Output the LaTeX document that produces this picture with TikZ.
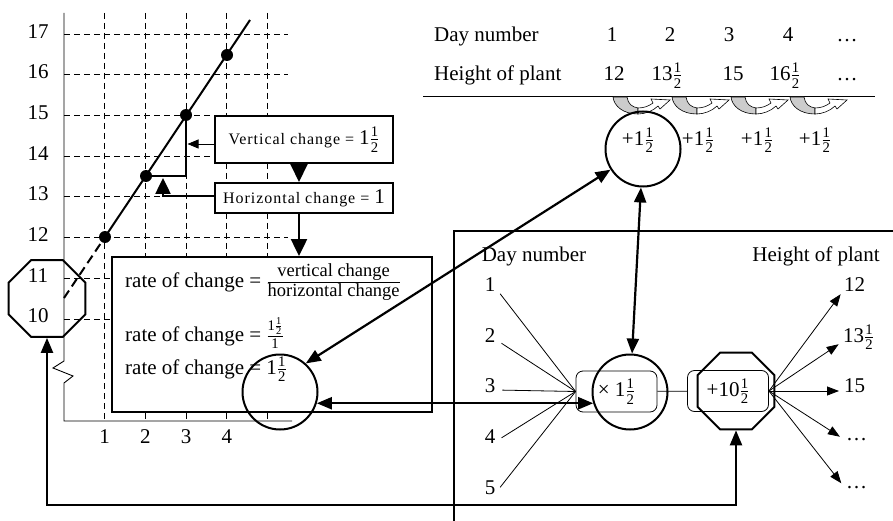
\documentclass[tikz,border=0pt]{standalone}
\usepackage{amsmath}
\usepackage{fontspec}
\setmainfont{Liberation Serif}
\usetikzlibrary{shapes.geometric, arrows.meta, positioning}
\newcommand{\hlf}{\ensuremath{\frac{\text{1}}{\text{2}}}}
\newcommand{\midtext}[1]{\text{\fontsize{18.5}{20}\selectfont #1}}
\tikzstyle{txt} = [font=\fontsize{21}{24}\selectfont, inner sep=1pt]
\tikzstyle{note} = [rectangle, 
draw=black, 
line width=2pt, 
fill=white,
inner xsep=8pt,
font={\fontsize{16}{18}\selectfont\addfontfeatures{LetterSpace=6}}]
\tikzstyle{ring} = [circle, draw=black, line width=2pt, minimum size=75pt, inner sep=0pt]
\tikzstyle{octagon} = [regular polygon, 
regular polygon sides=8, 
draw=black, 
line width=2pt, 
minimum size=83pt, 
inner sep=0pt]
\tikzstyle{opbox} = [rectangle, rounded corners=7pt, 
draw=black, 
line width=0.8pt, 
minimum width=81pt, 
minimum height=41pt, 
txt]
\tikzstyle{dot} = [circle, fill=black, minimum size=12pt, inner sep=0pt]
\tikzstyle{grid line} = [line width=0.9pt, dash pattern=on 6pt off 4pt]
\tikzstyle{link} = [line width=2.2pt, {Triangle[length=15pt,width=12pt]}-{Triangle[length=15pt,width=12pt]}]
\tikzstyle{fan} = [line width=0.8pt]
\tikzstyle{fan arrow} = [line width=0.8pt, -{Triangle[length=12pt,width=9pt]}]

\begin{document}
\begin{tikzpicture}[x=1pt, y=-1pt]
    \useasboundingbox (0,0) rectangle (893,521);

        % Graph
        \foreach \v in {10,...,17}
            \draw[grid line] (64,{319-40.7*(\v-10)}) -- (288,{319-40.7*(\v-10)});
        \foreach \d in {1,...,5}
            \draw[grid line] ({64+40.7*\d},13) -- ({64+40.7*\d},421);
        \draw[line width=0.9pt] (64,13) -- (64,361) -- (53,368) -- (73,376) -- (64,383) -- (64,421) -- (292,421);
        \foreach \v in {10,...,17}
            \node[txt] (y\v) at (38,{316-40.7*(\v-10)}) {\v};
        \foreach \d in {1,...,4}
            \node[txt] (x\d) at ({64+40.7*\d},437) {\d};

        % Line of points
        \coordinate (lstart) at (64,298);
        \coordinate (lend) at (250,20);
        \coordinate (htip) at (163,178);
        \coordinate (loopbase) at (0,505);
        \draw[line width=2pt, dash pattern=on 9pt off 5pt] (lstart) -- (105,237);
        \draw[line width=2pt] (105,237) -- (lend);
        \node[dot] (p1) at (105,237) {};
        \node[dot] (p2) at (146,176) {};
        \node[dot] (p3) at (186,115) {};
        \node[dot] (p4) at (227,55) {};
        \draw[line width=2.5pt] (p2.center) -- (p2.center -| p3.center) -- (p3.center);

        % Notes
        \node[note, minimum width=178pt, minimum height=47pt] (vbox) at (304,139.5) {Vertical change = {\fontsize{21}{24}\selectfont 1\hlf}};
        \node[note, minimum width=176pt, minimum height=30pt] (hbox) at (304,198) {Horizontal change = {\fontsize{21}{24}\selectfont 1}};
        \node[rectangle, draw=black, line width=2pt, fill=white, minimum width=320pt, minimum height=155pt] (rbox) at (272,334.5) {};
        \node[txt, anchor=west] (r1) at (124,282) {rate of change = $\frac{\midtext{vertical change}}{\midtext{horizontal change}}$};
        \node[txt, anchor=west] (r2) at (124,333) {rate of change = $\frac{\text{1}\frac{\text{1}}{\text{2}}}{\text{1}}$};
        \node[txt, anchor=west] (r3) at (124,369) {rate of change = 1\hlf};
        \node[octagon] (octL) at (47,298.5) {};
        \node[ring] (rring) at (280,392) {};

        \draw[line width=0.8pt, -{Triangle[length=11pt,width=9pt]}, shorten >=1.5pt] ([yshift=-4.5pt]vbox.west) -- ([yshift=-4.5pt]vbox.west -| p3.center);
        \draw[line width=2.5pt, -{Triangle[length=16pt,width=15pt]}] ([yshift=2pt]hbox.west) -| (htip);
        \draw[line width=2pt, -{Triangle[length=18pt,width=17pt]}] ([xshift=-5pt]vbox.south) -- ([xshift=-5pt]hbox.north);
        \draw[line width=2.5pt, -{Triangle[length=17pt,width=16pt]}] ([xshift=-5pt]hbox.south) -- ([xshift=-5pt]hbox.south |- rbox.north);

        % Table
        \node[txt, anchor=base west] (dayrow) at (433,42) {Day number};
        \node[txt, anchor=base west] (hrow) at (433,81) {Height of plant};
        \node[txt, anchor=base] (c1) at (612,42) {1};
        \node[txt, anchor=base] (c2) at (670,42) {2};
        \node[txt, anchor=base] (c3) at (729,42) {3};
        \node[txt, anchor=base] (c4) at (788,42) {4};
        \node[txt, anchor=base] (c5) at (847,42) {\ldots};
        \node[txt, anchor=base] (v1) at (614,81) {12};
        \node[txt, anchor=base] (v2) at (667,81) {13\hlf};
        \node[txt, anchor=base] (v3) at (733,81) {15};
        \node[txt, anchor=base] (v4) at (785,81) {16\hlf};
        \node[txt, anchor=base] (v5) at (847,81) {\ldots};
        \draw[line width=1pt] (423,97) -- (875,97);
        \foreach \x in {613,672,731,790} {
            \begin{scope}[shift={(\x,97)}]
                \filldraw[fill=gray!40, line width=0.6pt] (0,0) -- (14,0) .. controls (15,7) and (19,10) .. (25,11) -- (25,17) .. controls (10,17) and (1,9) .. (0,0) -- cycle;
                \filldraw[fill=white, line width=0.6pt] (25,11) .. controls (31,11) and (36,9) .. (40,6) -- (38,2) -- (57,3) -- (47,12) -- (45,9) .. controls (40,14) and (32,17) .. (25,17) -- cycle;
            \end{scope}
        }
        \node[txt] (pl1) at (638,140) {+1\hlf};
        \node[txt] (pl2) at (698,140) {+1\hlf};
        \node[txt] (pl3) at (757,140) {+1\hlf};
        \node[txt] (pl4) at (815,140) {+1\hlf};
        \node[ring] (topring) at (643,149) {};

        % Function machine
        \draw[line width=1.5pt] (893,231) -- (454,231) -- (454,521);
        \node[txt, anchor=base] (dayhead) at (534,261) {Day number};
        \node[txt, anchor=base] (hhead) at (816,261) {Height of plant};
        \node[txt] (d1) at (490,285) {1};
        \node[txt] (d2) at (490,336) {2};
        \node[txt] (d3) at (490,386) {3};
        \node[txt] (d4) at (490,437) {4};
        \node[txt] (d5) at (490,488) {5};
        \node[opbox] (mbox) at (616.5,391.5) {× 1\hlf};
        \node[opbox] (abox) at (728,391) {+10\hlf};
        \node[ring] (midring) at (630,392) {};
        \node[octagon] (octR) at (736,391) {};
        \node[txt, anchor=west] (h1) at (843,285) {12};
        \node[txt, anchor=west] (h2) at (842,337) {13\hlf};
        \node[txt, anchor=west] (h3) at (843,386) {15};
        \node[txt, anchor=west] (h4) at (845,440) {\ldots};
        \node[txt, anchor=west] (h5) at (845,488) {\ldots};

        % Connections
        \draw[fan, shorten <=6pt] ([yshift=-4pt]d1.east) -- (mbox.west);
        \draw[fan, shorten <=6pt] ([yshift=-4pt]d2.east) -- (mbox.west);
        \draw[fan, shorten <=6pt] ([yshift=-4pt]d3.east) -- (mbox.west);
        \draw[fan, shorten <=6pt] ([yshift=-4pt]d4.east) -- (mbox.west);
        \draw[fan, shorten <=6pt] ([yshift=-4pt]d5.east) -- (mbox.west);
        \draw[fan] (mbox) -- (abox);
        \draw[fan arrow, shorten >=4pt] (abox.east) -- ([yshift=-6pt]h1.west);
        \draw[fan arrow, shorten >=4pt] (abox.east) -- ([yshift=-5pt]h2.west);
        \draw[fan arrow, shorten >=4pt] (abox.east) -- ([yshift=-5pt]h3.west);
        \draw[fan arrow, shorten >=6pt] (abox.east) -- (h4.west);
        \draw[fan arrow, shorten >=6pt] (abox.east) -- (h5.west);
        \draw[link] (topring) -- (rring.48);
        \draw[link] (topring) -- (midring);
        \draw[link] (rring.-17) -- (midring.197);
        \draw[link] (octR.south) -- (octR.south |- loopbase) -| (octL.south);

    \end{tikzpicture}
\end{document}
